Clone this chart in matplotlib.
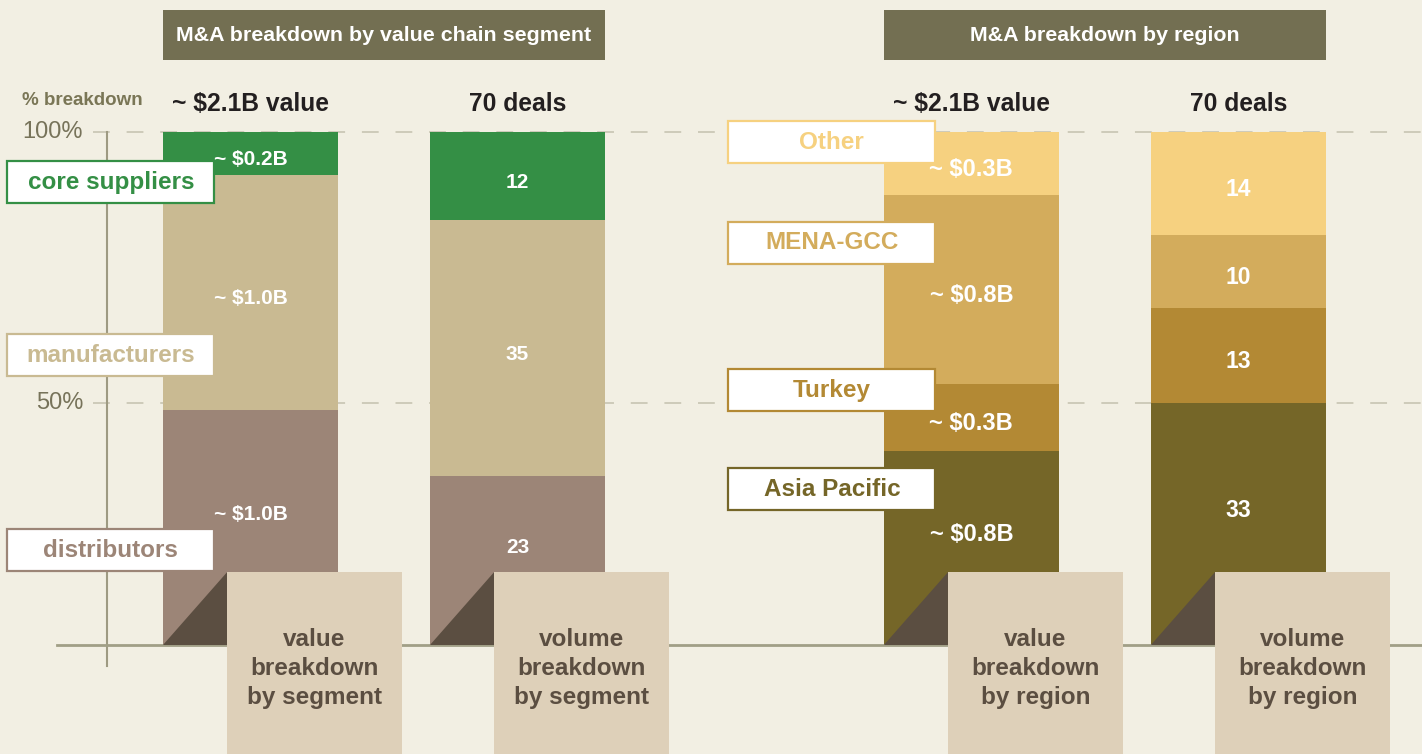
import matplotlib.pyplot as plt
from matplotlib.patches import Rectangle, Polygon

plt.rcParams['font.family'] = ['Liberation Sans', 'DejaVu Sans']

# data (stacked bottom -> top), shares in % of the bar
seg_names = ["distributors", "manufacturers", "core suppliers"]
seg_value_share = [45.8, 45.8, 8.4]
seg_value_labels = ["~ $1.0B", "~ $1.0B", "~ $0.2B"]
seg_deals = [23, 35, 12]

reg_names = ["Asia Pacific", "Turkey", "MENA-GCC", "Other"]
reg_value_share = [37.8, 13.1, 36.8, 12.3]
reg_value_labels = ["~ $0.8B", "~ $0.3B", "~ $0.8B", "~ $0.3B"]
reg_deals = [33, 13, 10, 14]

seg_colors = ["#9c8577", "#c9ba92", "#348f45"]
reg_colors = ["#756628", "#b38934", "#d3ac5c", "#f6d180"]

# where the category tags sit (% height)
seg_tag_y = [18.5, 56.5, 90.2]
reg_tag_y = [30.4, 49.7, 78.4, 98.0]

bg = "#f2efe3"
dark = "#5b4e41"

fig = plt.figure(figsize=(14.22, 7.54), dpi=100, facecolor=bg)
ax = fig.add_axes([0, 0, 1, 1])
ax.set_facecolor(bg)
ax.set_xlim(-0.938, 4.388)
ax.set_ylim(-21.25, 125.73)
ax.axis("off")

xpos = [0, 1, 2.7, 3.7]
w = 0.655

# gridlines
for yv in [100, 47.2]:
    ax.plot([-0.59, 4.4], [yv, yv], color="#c4c1ae", lw=1.1,
            dashes=(11, 11), zorder=1)
ax.text(-0.627, 100, "100%", ha="right", va="center", fontsize=17,
        color="#77735a")
ax.text(-0.627, 47.2, "50%", ha="right", va="center", fontsize=17,
        color="#77735a")
ax.text(-0.856, 106.2, "% breakdown", ha="left", va="center", fontsize=13.5,
        fontweight="bold", color="#7a7656")

# axis lines
ax.plot([-0.5356, -0.5356], [100, -4.1], color="#9e9a82", lw=1.5, zorder=1)
ax.plot([-0.7247, 4.4], [0, 0], color="#a19f86", lw=2, zorder=3)


def stacked(x, shares, colors, labels, fsize, tags, tag_y):
    bottom = 0
    for i, (s, c) in enumerate(zip(shares, colors)):
        ax.bar(x, s, width=w, bottom=bottom, color=c, zorder=2)
        lo = 7.6 if i == 0 else bottom
        ax.text(x, (lo + bottom + s) / 2 - 1.2, labels[i], ha="center",
                va="center", color="white", fontsize=fsize,
                fontweight="bold", zorder=5)
        bottom += s
    # category tags on the left
    for name, c, ty in zip(tags, colors, tag_y):
        ax.add_patch(Rectangle((x - 0.91, ty - 4.1), 0.775, 8.2,
                               facecolor="white", edgecolor=c, lw=1.6,
                               zorder=4))
        ax.text(x - 0.91 + 0.3875, ty, name, ha="center", va="center",
                color=c, fontsize=17.5, fontweight="bold", zorder=5)


def bottom_box(x, text):
    left = x - w / 2 + 0.24
    ax.add_patch(Polygon([(x - w / 2, 0), (left, 14.2), (left, 0)],
                         closed=True, facecolor=dark, zorder=3.5))
    ax.add_patch(Rectangle((left, -30), w, 44.2, facecolor="#ded0b9",
                           edgecolor="none", zorder=4))
    ax.text(left + w / 2, -4.6, text, ha="center", va="center",
            color=dark, fontsize=17.5, fontweight="bold", linespacing=1.32,
            zorder=5)


stacked(xpos[0], seg_value_share, seg_colors, seg_value_labels, 15,
        seg_names, seg_tag_y)
deal_share = [d / sum(seg_deals) * 100 for d in seg_deals]
stacked(xpos[1], deal_share, seg_colors, [str(d) for d in seg_deals], 15,
        [], [])
stacked(xpos[2], reg_value_share, reg_colors, reg_value_labels, 17,
        reg_names, reg_tag_y)
deal_share = [d / sum(reg_deals) * 100 for d in reg_deals]
stacked(xpos[3], deal_share, reg_colors, [str(d) for d in reg_deals], 16.5,
        [], [])

bottom_box(xpos[0], "value\nbreakdown\nby segment")
bottom_box(xpos[1], "volume\nbreakdown\nby segment")
bottom_box(xpos[2], "value\nbreakdown\nby region")
bottom_box(xpos[3], "volume\nbreakdown\nby region")

# column headers
for x, t in zip(xpos, ["~ $2.1B value", "70 deals", "~ $2.1B value", "70 deals"]):
    ax.text(x, 105.5, t, ha="center", va="center", fontsize=17.7,
            fontweight="bold", color="#231f20")

# section titles
for x0, title in [(xpos[0], "M&A breakdown by value chain segment"),
                  (xpos[2], "M&A breakdown by region")]:
    ax.add_patch(Rectangle((x0 - w / 2, 114.04), 1 + w, 9.74,
                           facecolor="#736f52", zorder=4))
    ax.text(x0 + 0.5, 118.9, title, ha="center", va="center", fontsize=15.4,
            fontweight="bold", color="white", zorder=5)

fig.savefig("out.png", dpi=100, facecolor=bg)
